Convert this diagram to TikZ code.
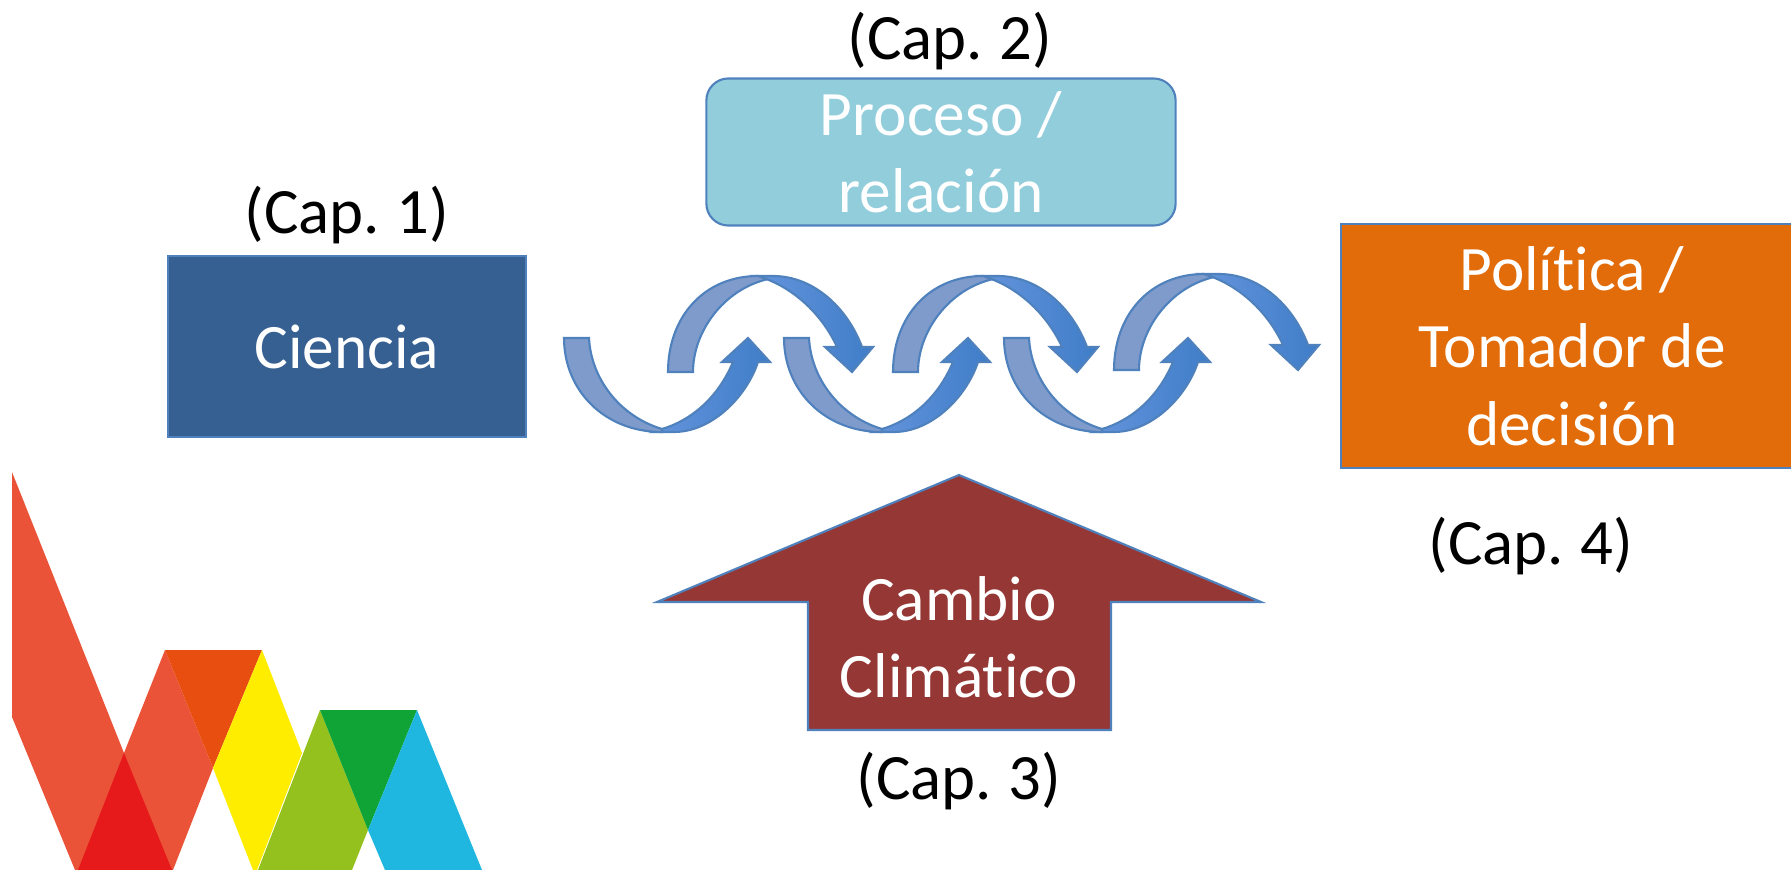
\documentclass[tikz,border=0pt]{standalone}
\usepackage{fontspec}
\setmainfont{Carlito}[RawFeature=-liga]
\usepackage{xcolor}
\usetikzlibrary{shapes.geometric, arrows}
\definecolor{borde}{HTML}{4F81BD}
\definecolor{colaflecha}{HTML}{7E9BCB}
\definecolor{puntaclara}{HTML}{6494DC}
\definecolor{puntaoscura}{HTML}{3F7DC8}
\newcommand{\fuentecap}{\fontsize{18.4}{22}\selectfont\spaceskip 0.18em\relax}
\tikzstyle{caja} = [rectangle, text centered, align=center, draw=borde, line width=0.6pt, text=white, font=\fontsize{18}{22}\selectfont, inner sep=0pt]
\tikzstyle{etiqueta} = [text=black, inner sep=0pt, font=\fuentecap]
\tikzstyle{cola} = [draw=borde, line width=0.6pt, fill=colaflecha]
\tikzstyle{punta} = [draw=borde, line width=0.6pt, left color=puntaclara, right color=puntaoscura]
\newcommand{\flechasup}[2]{
\begin{scope}[shift={(#1,#2)}]
\path [punta] (99,-92.7) .. controls (122,-84) and (152,-62) .. (169,-25) -- (157,-25) -- (184,0) -- (205,-25) -- (194,-25) .. controls (179,-65) and (145,-96) .. (105,-96) -- (88,-96) -- cycle;
\path [cola] (0,0) .. controls (0,-55) and (36,-96) .. (90,-96) -- (99,-92.7) .. controls (55,-82) and (25,-40) .. (25,0) -- cycle;
\end{scope}
}
\newcommand{\flechainf}[2]{
\begin{scope}[shift={(#1,#2)}]
\path [punta] (98,91) .. controls (125,83) and (153,62) .. (169,24) -- (158,24) -- (184,0) -- (206,24) -- (194,24) .. controls (182,60) and (147,94) .. (110,94) -- (90,94) -- cycle;
\path [cola] (0,0) .. controls (0,52) and (40,94) .. (98,94) -- (98,91) .. controls (55,78) and (27,40) .. (25,0) -- cycle;
\end{scope}
}

\begin{document}
\begin{tikzpicture}[x=0.01cm, y=-0.01cm, node distance=1cm]
\useasboundingbox (0,0) rectangle (1791,870);

% logo
\fill [color={rgb,255:red,234;green,83;blue,56}] (12,472) -- (124,753) -- (165,650) -- (213,768) -- (173,870) -- (75,870) -- (12,717) -- cycle;
\fill [color={rgb,255:red,230;green,26;blue,27}] (124,753) -- (78,870) -- (172,870) -- cycle;
\fill [color={rgb,255:red,232;green,78;blue,15}] (165,650) -- (262,650) -- (213,768) -- cycle;
\fill [color={rgb,255:red,255;green,237;blue,0}] (213,768) -- (262,650) -- (302,753) -- (257,870) -- (253,870) -- cycle;
\fill [color={rgb,255:red,149;green,193;blue,31}] (258,870) -- (320,710) -- (368,830) -- (352,870) -- cycle;
\fill [color={rgb,255:red,15;green,164;blue,53}] (320,710) -- (417,710) -- (368,830) -- cycle;
\fill [color={rgb,255:red,31;green,182;blue,224}] (417,710) -- (368,830) -- (385,870) -- (482,870) -- cycle;

% cajas
\node (ciencia) [caja, fill={rgb,255:red,55;green,96;blue,146}, minimum width=3.57cm, minimum height=1.81cm] at (347,346.5) {Ciencia};
\node (proceso) [caja, fill={rgb,255:red,146;green,205;blue,220}, rounded corners=0.22cm, minimum width=4.69cm, minimum height=1.47cm] at (941,152) {Proceso /\\relación};
\node (politica) [caja, fill={rgb,255:red,227;green,108;blue,10}, minimum width=4.62cm, minimum height=2.44cm] at (1572,346) {Política /\\Tomador de\\decisión};

% flecha grande
\draw [draw=borde, line width=0.6pt, fill={rgb,255:red,149;green,55;blue,53}] (959,475) -- (1261,602) -- (1111,602) -- (1111,730) -- (808,730) -- (808,602) -- (657,602) -- cycle;
\node (cambio) [caja, draw=none] at (959,637) {Cambio\\Climático};

% flechas curvas
\foreach \x/\y in {564/338, 784/338, 1004/338}
    \flechainf{\x}{\y};
\foreach \x/\y in {668/372, 893/372, 1114/370}
    \flechasup{\x}{\y};

% capitulos
\node (cap1) [etiqueta, above of=ciencia, yshift=0.31cm] {(Cap. 1)};
\node (cap2) [etiqueta, above of=proceso, xshift=0.09cm, yshift=0.11cm] {(Cap. 2)};
\node (cap3) [etiqueta, below of=cambio, yshift=-0.44cm] {(Cap. 3)};
\node (cap4) [etiqueta, below of=politica, xshift=-0.41cm, yshift=-1cm] {(Cap. 4)};
\end{tikzpicture}
\end{document}
